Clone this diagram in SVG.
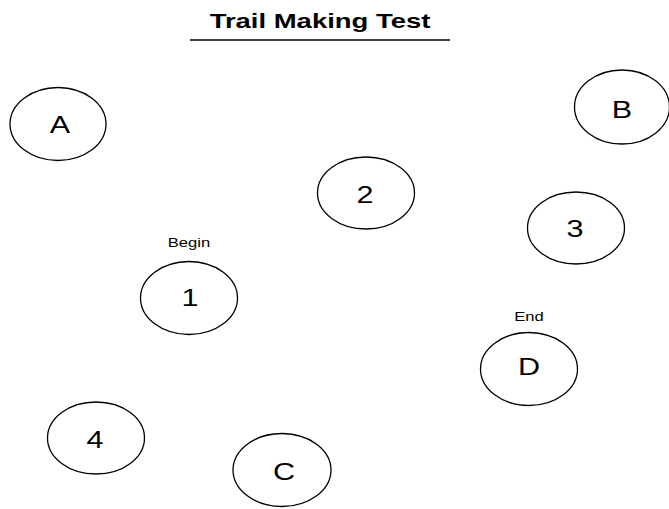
<svg xmlns="http://www.w3.org/2000/svg" width="669" height="509" viewBox="0 0 669 509">
<style>
.n{fill:#fff;stroke:#000;stroke-width:1.3}
.t{font-family:"Liberation Sans",Arial,sans-serif;font-size:23px;text-anchor:middle;fill:#000}
.s{font-family:"Liberation Sans",Arial,sans-serif;font-size:12.5px;text-anchor:middle;fill:#000}
</style>
<rect width="669" height="509" fill="#fff"/>
<g id="title">
<text transform="translate(320,28) scale(1.34,1)" font-family="Liberation Sans,Arial,sans-serif" font-size="20.5" font-weight="bold" text-anchor="middle">Trail Making Test</text>
<line x1="190" y1="40" x2="450" y2="40" stroke="#000" stroke-width="1.6"/>
</g>
<g id="connectors"></g>
<g id="nodeA"><ellipse class="n" cx="58" cy="124" rx="48" ry="36.5"/><text class="t" transform="translate(60,133) scale(1.33,1)">A</text></g>
<g id="nodeB"><ellipse class="n" cx="622" cy="107" rx="47.5" ry="37"/><text class="t" transform="translate(622,118) scale(1.33,1)">B</text></g>
<g id="node2"><ellipse class="n" cx="366" cy="193" rx="48.5" ry="36"/><text class="t" transform="translate(365,203) scale(1.33,1)">2</text></g>
<g id="node3"><ellipse class="n" cx="576" cy="228" rx="48.5" ry="36"/><text class="t" transform="translate(575,237) scale(1.33,1)">3</text></g>
<g id="node1"><text class="s" transform="translate(189,247) scale(1.33,1)">Begin</text><ellipse class="n" cx="189" cy="298" rx="48.5" ry="36.5"/><text class="t" transform="translate(190,306) scale(1.33,1)">1</text></g>
<g id="nodeD"><text class="s" transform="translate(529,321) scale(1.33,1)">End</text><ellipse class="n" cx="529" cy="369" rx="48.5" ry="36.5"/><text class="t" transform="translate(529,375) scale(1.33,1)">D</text></g>
<g id="node4"><ellipse class="n" cx="96" cy="438" rx="48.5" ry="36"/><text class="t" transform="translate(95,448) scale(1.33,1)">4</text></g>
<g id="nodeC"><ellipse class="n" cx="282" cy="470" rx="49" ry="36.5"/><text class="t" transform="translate(284,480) scale(1.33,1)">C</text></g>
</svg>
